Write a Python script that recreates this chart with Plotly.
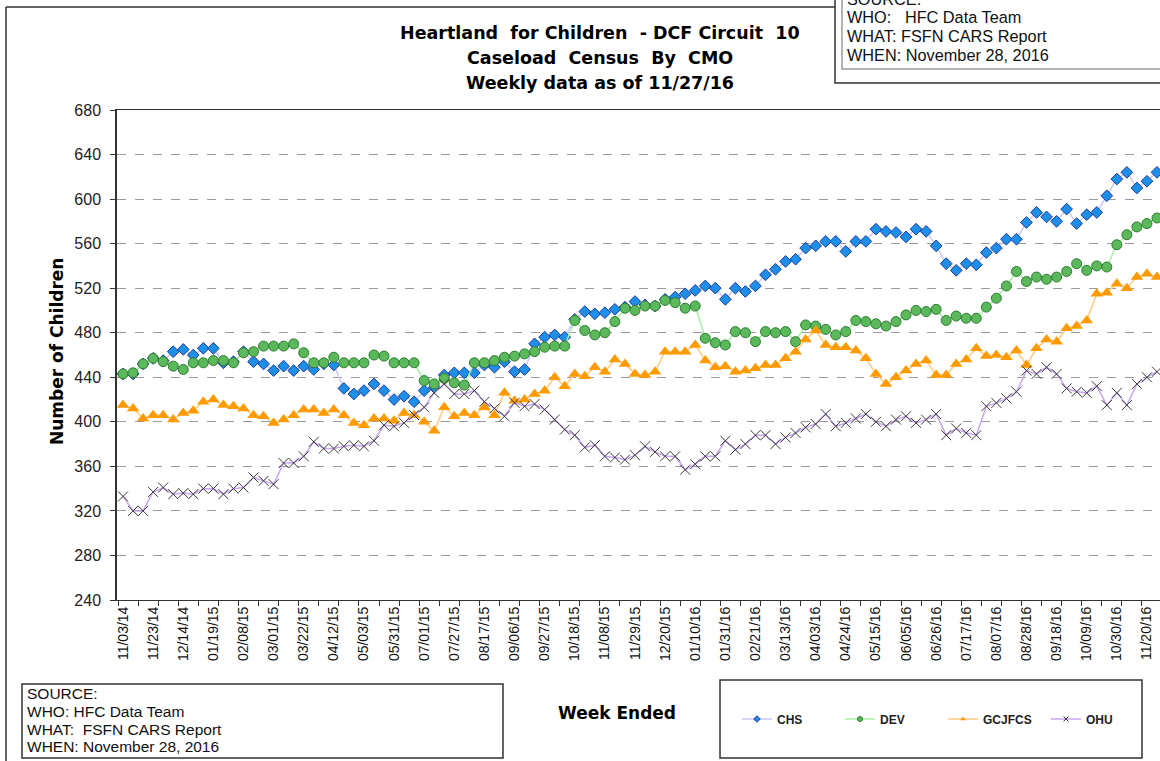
import plotly.graph_objects as go

W, H = 1160, 761

tick_labels = ["11/03/14", "11/23/14", "12/14/14", "01/19/15", "02/08/15", "03/01/15", "03/22/15",
               "04/12/15", "05/03/15", "05/31/15", "07/01/15", "07/27/15", "08/17/15", "09/06/15",
               "09/27/15", "10/18/15", "11/08/15", "11/29/15", "12/20/15", "01/10/16", "01/31/16",
               "02/21/16", "03/13/16", "04/03/16", "04/24/16", "05/15/16", "06/05/16", "06/26/16",
               "07/17/16", "08/07/16", "08/28/16", "09/18/16", "10/09/16", "10/30/16", "11/20/16"]

chs = [443, 443, 452, 457, 455, 463, 465, 460, 466, 466, 453, 454, 463, 454, 452, 446, 450, 446, 450, 447,
       452, 451, 430, 425, 428, 434, 428, 420, 423, 418, 428, 431, 442, 444, 444, 444, 451, 449, 454, 445,
       447, 470, 476, 478, 476, 492, 499, 497, 498, 501, 503, 508, 505, 504, 510, 512, 515, 518, 522, 520,
       510, 520, 517, 522, 532, 537, 544, 546, 556, 558, 562, 562, 553, 562, 562, 573, 571, 570, 566, 573,
       571, 558, 542, 536, 542, 541, 552, 556, 564, 564, 579, 588, 584, 580, 591, 578, 586, 588, 603, 618,
       624, 610, 616, 624]
dev = [443, 444, 452, 457, 454, 450, 447, 453, 453, 455, 455, 453, 462, 463, 468, 468, 468, 470, 462, 453,
       453, 458, 453, 453, 453, 460, 459, 453, 453, 453, 437, 434, 439, 435, 433, 453, 453, 455, 458, 459,
       461, 463, 467, 468, 468, 491, 482, 478, 480, 490, 502, 500, 504, 504, 509, 507, 502, 504, 475, 471,
       469, 481, 480, 472, 481, 480, 481, 472, 487, 486, 483, 478, 481, 491, 490, 488, 486, 490, 496, 500,
       499, 501, 491, 495, 493, 493, 503, 511, 522, 535, 526, 530, 528, 530, 535, 542, 536, 540, 539, 559,
       568, 575, 578, 583]
gcjfcs = [415, 412, 403, 406, 406, 402, 408, 410, 418, 420, 415, 414, 412, 406, 405, 399, 402, 406, 411, 411,
          408, 411, 406, 399, 397, 403, 403, 401, 408, 406, 400, 392, 413, 405, 408, 406, 413, 406, 426, 419,
          420, 425, 428, 440, 432, 443, 441, 449, 445, 456, 452, 443, 442, 445, 463, 463, 463, 469, 455, 449,
          450, 445, 446, 448, 451, 451, 457, 463, 474, 482, 469, 467, 467, 464, 457, 443, 434, 440, 446, 452,
          455, 442, 442, 452, 456, 466, 459, 460, 458, 464, 451, 466, 474, 472, 484, 486, 491, 515, 516, 524,
          520, 530, 533, 530]
ohu = [333, 320, 320, 337, 341, 335, 336, 335, 340, 340, 335, 340, 341, 350, 347, 344, 363, 363, 369, 382,
       376, 376, 378, 379, 378, 383, 397, 396, 399, 406, 413, 426, 434, 425, 425, 428, 418, 412, 405, 417,
       414, 416, 411, 402, 393, 388, 377, 379, 369, 368, 366, 370, 378, 373, 369, 369, 357, 362, 369, 369,
       383, 375, 380, 388, 388, 380, 386, 390, 395, 398, 407, 396, 399, 403, 407, 400, 396, 402, 405, 399,
       402, 407, 388, 394, 390, 388, 414, 417, 421, 427, 446, 443, 449, 443, 430, 427, 426, 432, 415, 426,
       415, 434, 440, 445]

weeks = list(range(len(chs)))
label_step = 3
tick_positions = weeks[::label_step][:len(tick_labels)]

FONT = "Liberation Sans, Arial, sans-serif"
BOLD_FONT = "DejaVu Sans, Liberation Sans, sans-serif"


def fx(px):
    return px / W


def fy(py):
    return 1 - py / H


series = [
    ("CHS", chs, dict(symbol="diamond", size=9, color="#1E8FE6", line=dict(color="#1C3A9E", width=1)), "#C9C9F7"),
    ("DEV", dev, dict(symbol="circle", size=10, color="#5BB85B", line=dict(color="#2E7D32", width=1)), "#A6F0A6"),
    ("GCJFCS", gcjfcs, dict(symbol="triangle-up", size=11, color="#FF9A00", line=dict(color="#FF9A00", width=0)), "#FFCB80"),
    ("OHU", ohu, dict(symbol="x-thin", size=10, color="#3A3A3A", line=dict(color="#3A3A3A", width=1)), "#C9A6F2"),
]

fig = go.Figure()
for name, vals, mk, lc in series:
    fig.add_trace(go.Scatter(x=weeks, y=vals, name=name, mode="lines+markers", showlegend=False,
                             line=dict(color=lc, width=1.5), marker=mk, cliponaxis=False))
# small legend keys (legend-only entries)
for name, vals, mk, lc in series:
    small = dict(mk)
    small["size"] = 5
    fig.add_trace(go.Scatter(x=[None], y=[None], name="<b>" + name + "</b>", mode="lines+markers",
                             line=dict(color=lc, width=1.5), marker=small, showlegend=True))

fig.update_layout(
    width=W, height=H,
    margin=dict(l=0, r=0, t=0, b=0, autoexpand=False),
    paper_bgcolor="white", plot_bgcolor="white",
    font=dict(family=FONT, color="black"),
    showlegend=True,
    legend=dict(orientation="h", x=fx(737), y=fy(719), xanchor="left", yanchor="middle",
                font=dict(family=FONT, size=12, color="#222"), bgcolor="rgba(0,0,0,0)",
                entrywidth=58, entrywidthmode="pixels", itemsizing="trace", traceorder="normal",
                itemwidth=30),
    xaxis=dict(domain=[fx(117), 1], range=[-0.6, 103.3], tickmode="array",
               tickvals=tick_positions, ticktext=tick_labels, tickangle=-90,
               ticks="", tickfont=dict(family=FONT, size=14, color="#111"),
               showgrid=False, zeroline=False, showline=True, linecolor="#333", linewidth=1,
               mirror=True,
               minor=dict(tickmode="array", tickvals=[w - 0.5 for w in weeks[::2]],
                          ticks="outside", ticklen=5, tickcolor="#333", tickwidth=1, showgrid=False),
               automargin=False, fixedrange=True),
    yaxis=dict(domain=[fy(600), fy(110)], range=[240, 680], tickmode="linear", tick0=240, dtick=40,
               ticks="outside", ticklen=5, tickcolor="#333",
               tickfont=dict(family=FONT, size=16, color="#222"),
               showgrid=True, gridcolor="#9a9a9a", griddash="dash", gridwidth=1,
               zeroline=False, showline=True, linecolor="#333", linewidth=1.5,
               automargin=False, fixedrange=True, ticklabelstandoff=6),
)

shapes = []
# outer chart frame (top and left edges)
shapes.append(dict(type="line", xref="paper", yref="paper", x0=fx(6), x1=fx(835), y0=fy(7), y1=fy(7),
                   line=dict(color="#333", width=1.5)))
shapes.append(dict(type="line", xref="paper", yref="paper", x0=fx(6), x1=fx(6), y0=fy(7), y1=fy(H + 5),
                   line=dict(color="#333", width=1.5)))
# top-right source box (outer + inner)
shapes.append(dict(type="rect", xref="paper", yref="paper", x0=fx(835), x1=fx(1175), y0=fy(83), y1=fy(-20),
                   line=dict(color="#333", width=1.5), fillcolor="white", layer="below"))
shapes.append(dict(type="rect", xref="paper", yref="paper", x0=fx(842), x1=fx(1175), y0=fy(69), y1=fy(-20),
                   line=dict(color="#9a9a9a", width=1.5)))
# bottom-left source box
shapes.append(dict(type="rect", xref="paper", yref="paper", x0=fx(22), x1=fx(503), y0=fy(758), y1=fy(684),
                   line=dict(color="#333", width=1.5)))
# legend box
shapes.append(dict(type="rect", xref="paper", yref="paper", x0=fx(720), x1=fx(1142), y0=fy(758), y1=fy(680),
                   line=dict(color="#333", width=1.5)))
fig.update_layout(shapes=shapes)

ann = []
title_lines = [("Heartland  for Children  - DCF Circuit  10", 33),
               ("Caseload  Census  By  CMO", 58),
               ("Weekly data as of 11/27/16", 83)]
for t, py in title_lines:
    ann.append(dict(text="<b>" + t + "</b>", x=fx(600), y=fy(py), xref="paper", yref="paper",
                    xanchor="center", yanchor="middle", showarrow=False,
                    font=dict(family=BOLD_FONT, size=17.5, color="black")))

ann.append(dict(text="<b>Number of Children</b>", x=fx(57), y=fy(352), xref="paper", yref="paper",
                xanchor="center", yanchor="middle", showarrow=False, textangle=-90,
                font=dict(family=BOLD_FONT, size=17, color="black")))
ann.append(dict(text="<b>Week Ended</b>", x=fx(617), y=fy(713), xref="paper", yref="paper",
                xanchor="center", yanchor="middle", showarrow=False,
                font=dict(family=BOLD_FONT, size=17, color="black")))

top_src = [("SOURCE:", -1), ("WHO:   HFC Data Team", 17), ("WHAT: FSFN CARS Report", 36),
           ("WHEN: November 28, 2016", 55)]
for t, py in top_src:
    ann.append(dict(text=t, x=fx(845), y=fy(py), xref="paper", yref="paper", xanchor="left",
                    yanchor="middle", showarrow=False, font=dict(family=FONT, size=16.3, color="#111")))

bot_src = [("SOURCE:", 693), ("WHO: HFC Data Team", 711), ("WHAT:  FSFN CARS Report", 729),
           ("WHEN: November 28, 2016", 746)]
for t, py in bot_src:
    ann.append(dict(text=t, x=fx(25), y=fy(py), xref="paper", yref="paper", xanchor="left",
                    yanchor="middle", showarrow=False, font=dict(family=FONT, size=15.5, color="#111")))

fig.update_layout(annotations=ann)

fig.write_html("out.html", config={"displayModeBar": False},
               post_script="document.body.style.margin='0';document.body.style.overflow='hidden';")
